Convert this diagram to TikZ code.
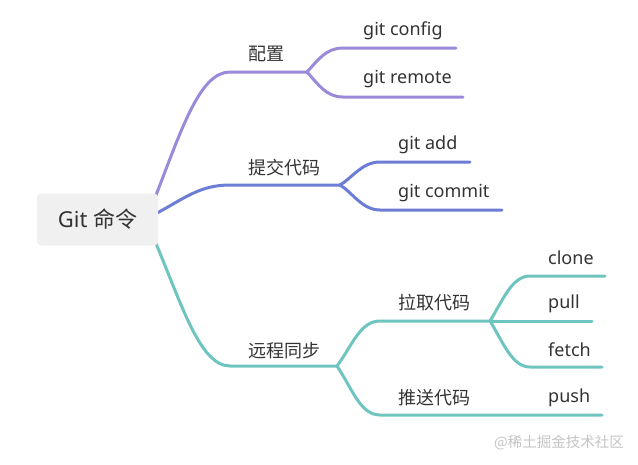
\documentclass[tikz,border=0pt]{standalone}
\usepackage{fontspec}
\setmainfont{Noto Sans}
\newfontfamily\cjk{Noto Sans CJK SC}
\usetikzlibrary{backgrounds}
\definecolor{cfg}{RGB}{155,138,218}
\definecolor{cmt}{RGB}{108,125,214}
\definecolor{syn}{RGB}{110,196,190}
\definecolor{rootbg}{RGB}{240,240,240}
\definecolor{txt}{RGB}{51,51,51}
\definecolor{wm}{RGB}{196,196,196}
\begin{document}
\begin{tikzpicture}[x=1pt,y=-1pt,
  br/.style={line width=3pt,line cap=round},
  lbl/.style={anchor=base west,inner sep=0pt,text=txt,font=\fontsize{18}{18}\selectfont},
  clbl/.style={lbl,font=\fontsize{18}{18}\selectfont\cjk},
  rootbox/.style={fill=rootbg,rounded corners=4pt,minimum width=121pt,minimum height=52pt,
    inner sep=0pt,text height=16pt,text depth=0pt,text=txt,font=\fontsize{22}{22}\selectfont}]
\useasboundingbox (0,0) rectangle (638,464);

% root
\node[rootbox] (root) at (97.5,219.5) {Git {\cjk 命令}};

% fork points and line ends
\coordinate (a1) at (230,72);  \coordinate (f1) at (307,72);
\coordinate (a2) at (343,48);  \coordinate (e2) at (456,48);
\coordinate (a3) at (343,97);  \coordinate (e3) at (463,97);
\coordinate (b1) at (230,185); \coordinate (f2) at (340,185);
\coordinate (b2) at (380,162); \coordinate (g2) at (470,162);
\coordinate (b3) at (380,210); \coordinate (g3) at (502,210);
\coordinate (c1) at (230,366); \coordinate (f3) at (337,366);
\coordinate (c2) at (380,321); \coordinate (f4) at (490,321);
\coordinate (c3) at (380,415); \coordinate (h3) at (602,415);
\coordinate (d1) at (530,276); \coordinate (k1) at (605,276);
\coordinate (k2) at (592,321);
\coordinate (d3) at (530,367); \coordinate (k3) at (602,367);

% labels
\node[clbl] (n1) at (248,60) {配置};
\node[lbl]  (n11) at (363,35) {git config};
\node[lbl]  (n12) at (363,83) {git remote};
\node[clbl] (n2) at (248,174.5) {提交代码};
\node[lbl]  (n21) at (398,149.5) {git add};
\node[lbl]  (n22) at (398,197) {git commit};
\node[clbl] (n3) at (248,357.5) {远程同步};
\node[clbl] (n31) at (398,309.5) {拉取代码};
\node[clbl] (n32) at (398,404.5) {推送代码};
\node[lbl]  (n311) at (548,264) {clone};
\node[lbl]  (n312) at (548,308) {pull};
\node[lbl]  (n313) at (548,356) {fetch};
\node[lbl]  (n321) at (548,402.5) {push};

\node[anchor=base east,inner sep=0pt,text=wm,font=\fontsize{14.5}{14.5}\selectfont\cjk] (wmk) at (624,447) {@稀土掘金技术社区};

\begin{scope}[on background layer]
  % purple branch
  \draw[br,cfg] ([shift={(-3,4)}]root.north east) .. controls (182,128) and (200,72) .. (a1) -- (f1);
  \draw[br,cfg] (f1) .. controls (318,60) and (326,48) .. (a2) -- (e2);
  \draw[br,cfg] (f1) .. controls (318,84) and (326,97) .. (a3) -- (e3);
  % blue branch
  \draw[br,cmt] ([shift={(-2,-6)}]root.east) .. controls (185,198) and (200,185) .. (b1) -- (f2);
  \draw[br,cmt] (f2) .. controls (352,178) and (362,162) .. (b2) -- (g2);
  \draw[br,cmt] (f2) .. controls (352,192) and (362,210) .. (b3) -- (g3);
  % teal branch
  \draw[br,syn] ([shift={(-3,-4)}]root.south east) .. controls (182,305) and (200,366) .. (c1) -- (f3);
  \draw[br,syn] (f3) .. controls (352,346) and (360,321) .. (c2) -- (f4);
  \draw[br,syn] (f3) .. controls (352,388) and (360,415) .. (c3) -- (h3);
  \draw[br,syn] (f4) .. controls (503,300) and (512,276) .. (d1) -- (k1);
  \draw[br,syn] (f4) -- (k2);
  \draw[br,syn] (f4) .. controls (503,342) and (512,367) .. (d3) -- (k3);
\end{scope}
\end{tikzpicture}
\end{document}
